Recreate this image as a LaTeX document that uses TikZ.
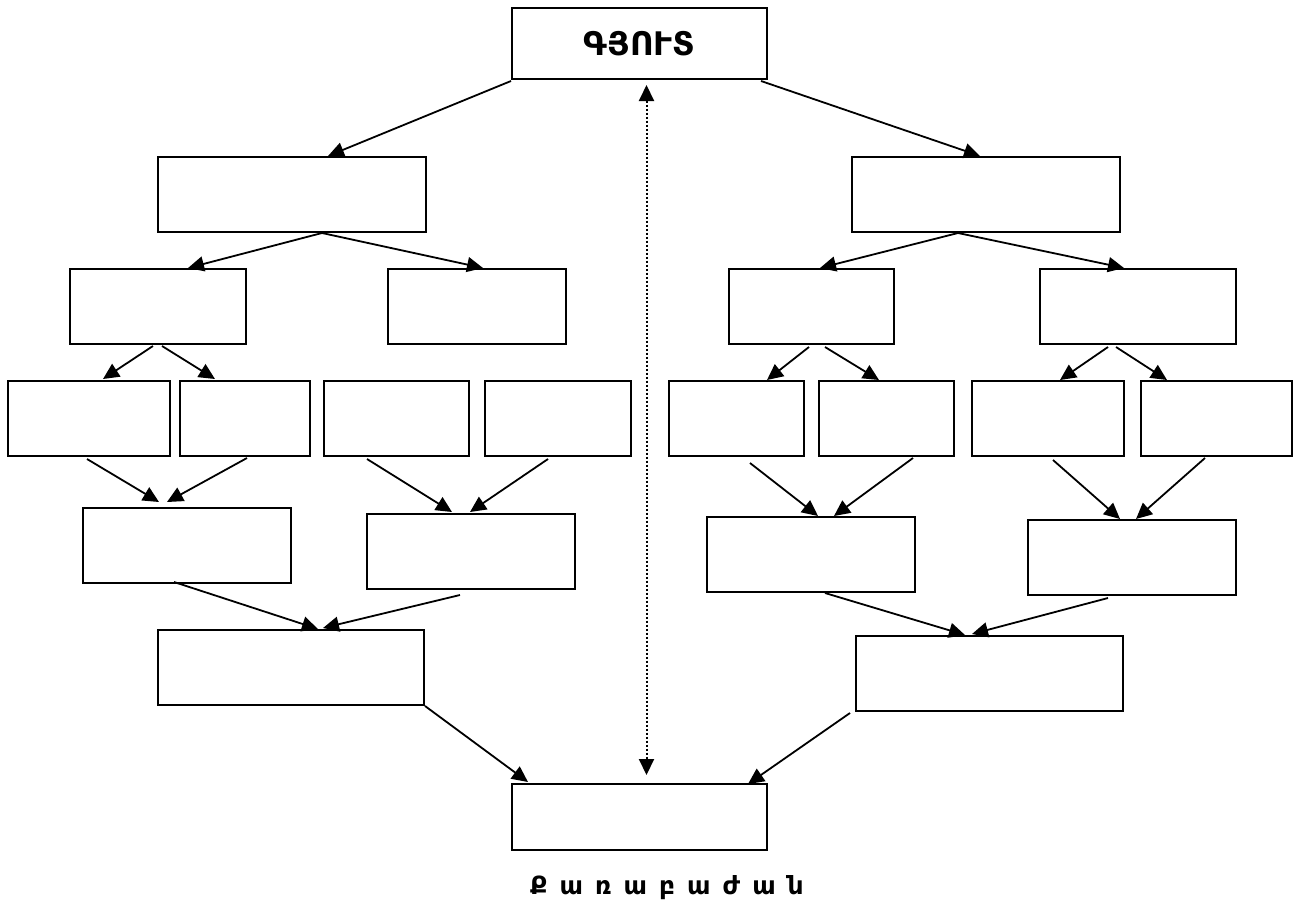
\documentclass[tikz,border=0pt]{standalone}
\usepackage{fontspec}
\newfontfamily\armfont{DejaVu Sans}
\usetikzlibrary{arrows.meta}
\newcommand{\lsp}{\hskip 12pt}
\tikzset{
  box/.style={draw, line width=2pt, inner sep=0pt, minimum height=75pt},
  conn/.style={line width=1.8pt, -{Triangle[length=16pt,width=15pt]}},
  dots/.style={line width=2pt, dash pattern=on 2pt off 2pt, {Triangle[length=16pt,width=15pt]}-{Triangle[length=16pt,width=15pt]}}
}
\begin{document}
\begin{tikzpicture}[x=1pt,y=-1pt]
\useasboundingbox (0,0) rectangle (1294,911);
% boxes
\node[box, minimum width=255pt, minimum height=71pt, font=\armfont\bfseries\fontsize{32.5}{38}\selectfont] (top) at (639.5,43.5) {ԳՅՈՒՏ};
\node[box, minimum width=268pt] (l1l) at (292,194.5) {};
\node[box, minimum width=268pt] (l1r) at (986,194.5) {};
\node[box, minimum width=176pt] (ll) at (158,306.5) {};
\node[box, minimum width=178pt] (lr) at (477,306.5) {};
\node[box, minimum width=165pt] (rl) at (811.5,306.5) {};
\node[box, minimum width=196pt] (rr) at (1138,306.5) {};
\node[box, minimum width=162pt] (a) at (89,418.5) {};
\node[box, minimum width=130pt] (b) at (245,418.5) {};
\node[box, minimum width=145pt] (c) at (396.5,418.5) {};
\node[box, minimum width=146pt] (d) at (558,418.5) {};
\node[box, minimum width=135pt] (e) at (736.5,418.5) {};
\node[box, minimum width=135pt] (f) at (886.5,418.5) {};
\node[box, minimum width=152pt] (g) at (1048,418.5) {};
\node[box, minimum width=151pt] (h) at (1216.5,418.5) {};
\node[box, minimum width=208pt] (fa) at (187,545.5) {};
\node[box, minimum width=208pt] (fb) at (471,551.5) {};
\node[box, minimum width=208pt] (fc) at (811,554.5) {};
\node[box, minimum width=208pt] (fd) at (1132,557.5) {};
\node[box, minimum width=266pt] (vl) at (291,667.5) {};
\node[box, minimum width=267pt] (vr) at (989.5,673.5) {};
\node[box, minimum width=255pt, minimum height=66pt] (bot) at (639.5,817) {};
\node[font=\armfont\bfseries\fontsize{25}{30}\selectfont, inner sep=0pt] (lbl) at (667,888) {Ք\lsp ա\lsp ռ\lsp ա\lsp բ\lsp ա\lsp ժ\lsp ա\lsp ն};
% connectors
\draw[conn] ([shift={(0,1)}]top.south west) -- ([shift={(36,0)}]l1l.north);
\draw[conn] ([shift={(-7,1)}]top.south east) -- ([shift={(-6,0)}]l1r.north);
\draw[conn] ([shift={(30,0)}]l1l.south) -- ([shift={(30,0)}]ll.north);
\draw[conn] ([shift={(30,0)}]l1l.south) -- ([shift={(6,0)}]lr.north);
\draw[conn] ([shift={(-28,0)}]l1r.south) -- ([shift={(8.5,0)}]rl.north);
\draw[conn] ([shift={(-28,0)}]l1r.south) -- ([shift={(-14,0)}]rr.north);
\draw[conn] ([shift={(-5,1)}]ll.south) -- ([shift={(14,-1)}]a.north);
\draw[conn] ([shift={(4,1)}]ll.south) -- ([shift={(-30,-1)}]b.north);
\draw[conn] ([shift={(-2.5,2)}]rl.south) -- ([shift={(30.5,0)}]e.north);
\draw[conn] ([shift={(13.5,2)}]rl.south) -- ([shift={(-7.5,0)}]f.north);
\draw[conn] ([shift={(-30,2)}]rr.south) -- ([shift={(12,0)}]g.north);
\draw[conn] ([shift={(-22,2)}]rr.south) -- ([shift={(-49.5,0)}]h.north);
\draw[conn] ([shift={(-2,2)}]a.south) -- ([shift={(-28,-5)}]fa.north);
\draw[conn] ([shift={(2,1)}]b.south) -- ([shift={(-20,-5)}]fa.north);
\draw[conn] ([shift={(-29.5,2)}]c.south) -- ([shift={(-19,-1)}]fb.north);
\draw[conn] ([shift={(-10,2)}]d.south) -- ([shift={(-1,-1)}]fb.north);
\draw[conn] ([shift={(13.5,6)}]e.south) -- ([shift={(7,0)}]fc.north);
\draw[conn] ([shift={(26.5,1)}]f.south) -- ([shift={(23,0)}]fc.north);
\draw[conn] ([shift={(5,3)}]g.south) -- ([shift={(-12,0)}]fd.north);
\draw[conn] ([shift={(-11.5,1)}]h.south) -- ([shift={(4,0)}]fd.north);
\draw[conn] ([shift={(-13,-2)}]fa.south) -- ([shift={(27,0)}]vl.north);
\draw[conn] ([shift={(-11,5)}]fb.south) -- ([shift={(32,-1)}]vl.north);
\draw[conn] ([shift={(14,0)}]fc.south) -- ([shift={(-24.5,0)}]vr.north);
\draw[conn] ([shift={(-24,2)}]fd.south) -- ([shift={(-17.5,-1)}]vr.north);
\draw[conn] (vl.south east) -- ([shift={(-111.5,-1)}]bot.north);
\draw[conn] ([shift={(-5,1)}]vr.south west) -- ([shift={(108.5,1)}]bot.north);
\draw[dots] ([shift={(7,5)}]top.south) -- ([shift={(7,-8)}]bot.north);
\end{tikzpicture}
\end{document}
